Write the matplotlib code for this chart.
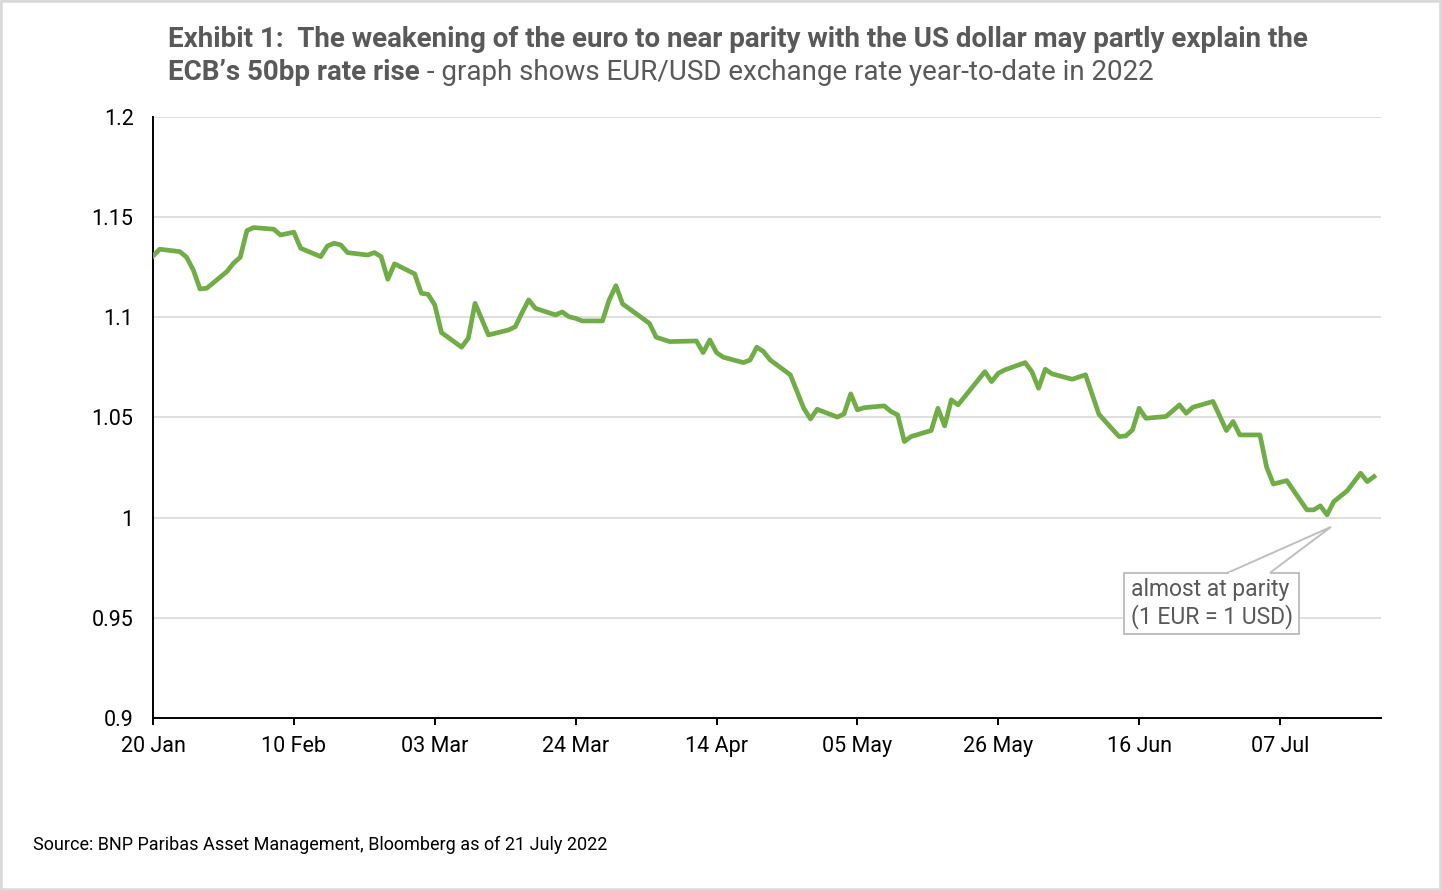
import numpy as np
import pandas as pd
import matplotlib
matplotlib.use('Agg')
import matplotlib.pyplot as plt
import matplotlib.dates as mdates
from matplotlib.patches import Rectangle, Polygon

plt.rcParams['font.family'] = ['Roboto', 'DejaVu Sans']

# EUR/USD, trading days counted from 20 Jan 2022
start = pd.Timestamp('2022-01-20')
day_offset = [0, 1, 4, 5, 6, 7, 8, 11, 12, 13, 14, 15, 18, 19, 21, 22, 25, 26, 27, 28,
              29, 32, 33, 34, 35, 36, 39, 40, 41, 42, 43, 46, 47, 48, 50, 53, 54, 55, 56, 57,
              60, 61, 62, 63, 64, 67, 68, 69, 70, 74, 75, 77, 81, 82, 83, 84, 85, 88, 89, 90,
              91, 92, 95, 97, 98, 99, 102, 103, 104, 105, 106, 109, 110, 111, 112, 113, 116, 117, 118, 119,
              120, 124, 125, 126, 127, 130, 131, 132, 133, 134, 137, 139, 141, 144, 145, 146, 147, 148, 151, 153,
              154, 155, 158, 160, 161, 162, 165, 166, 167, 169, 172, 173, 174, 175, 176, 178, 180, 181, 182]
eurusd = [1.1306, 1.1340, 1.1328, 1.1300, 1.1237, 1.1142, 1.1145, 1.1228, 1.1270, 1.1300,
          1.1433, 1.1448, 1.1440, 1.1411, 1.1425, 1.1345, 1.1303, 1.1356, 1.1370, 1.1361,
          1.1323, 1.1311, 1.1323, 1.1303, 1.1190, 1.1267, 1.1217, 1.1120, 1.1115, 1.1062,
          1.0924, 1.0851, 1.0896, 1.1070, 1.0912, 1.0937, 1.0953, 1.1023, 1.1087, 1.1045,
          1.1012, 1.1027, 1.1003, 1.0995, 1.0982, 1.0982, 1.1087, 1.1158, 1.1067, 1.0970,
          1.0901, 1.0879, 1.0882, 1.0824, 1.0887, 1.0824, 1.0801, 1.0774, 1.0787, 1.0851,
          1.0829, 1.0787, 1.0713, 1.0546, 1.0493, 1.0541, 1.0502, 1.0518, 1.0618, 1.0538,
          1.0549, 1.0558, 1.0530, 1.0513, 1.0380, 1.0405, 1.0435, 1.0546, 1.0458, 1.0588,
          1.0563, 1.0729, 1.0679, 1.0721, 1.0738, 1.0774, 1.0729, 1.0646, 1.0741, 1.0718,
          1.0691, 1.0713, 1.0516, 1.0405, 1.0408, 1.0438, 1.0546, 1.0496, 1.0505, 1.0563,
          1.0521, 1.0551, 1.0580, 1.0435, 1.0480, 1.0413, 1.0413, 1.0252, 1.0168, 1.0185,
          1.0039, 1.0039, 1.0059, 1.0014, 1.0080, 1.0134, 1.0222, 1.0180, 1.0205]
dates = start + pd.to_timedelta(day_offset, unit='D')

tick_dates = pd.date_range('2022-01-20', periods=9, freq='21D')
y_ticks = [0.9, 0.95, 1.0, 1.05, 1.1, 1.15, 1.2]
y_labels = ['0.9', '0.95', '1', '1.05', '1.1', '1.15', '1.2']

grey_text = '#595959'
green = '#70AD47'
W, H = 1442, 891


def fit(t, width_px, renderer):
    # shrink a text until it is as wide as the reference
    w = t.get_window_extent(renderer).width
    t.set_fontsize(t.get_fontsize() * width_px / w)


fig = plt.figure(figsize=(W / 100, H / 100), dpi=100)
ax = fig.add_axes([153 / W, 1 - 718 / H, (1380.7 - 153) / W, (718 - 117) / H])

ax.plot(dates, eurusd, color=green, lw=3.4, solid_joinstyle='round', zorder=3)

ax.set_xlim(start, start + pd.Timedelta(days=183))
ax.set_ylim(0.9, 1.2)
ax.set_yticks(y_ticks)
ax.set_yticklabels(y_labels)
ax.set_xticks(tick_dates)
ax.xaxis.set_major_formatter(mdates.DateFormatter('%d %b'))
ax.grid(axis='y', color='#d9d9d9', lw=1.2)
ax.set_axisbelow(True)
for s in ['top', 'right']:
    ax.spines[s].set_visible(False)
for s in ['left', 'bottom']:
    ax.spines[s].set_linewidth(1.4)
ax.tick_params(axis='y', length=0, pad=14, labelsize=15.5)
ax.tick_params(axis='x', length=5, width=1.4, pad=8, labelsize=15.5)

# callout
tip = (mdates.date2num(start + pd.Timedelta(days=175.6)), 0.9954)
b1 = (mdates.date2num(start + pd.Timedelta(days=160.2)), 0.9725)
b2 = (mdates.date2num(start + pd.Timedelta(days=166.5)), 0.9725)
ax.add_patch(Rectangle((mdates.date2num(start + pd.Timedelta(days=144.7)), 0.942),
                       26.1, 0.0305, fc='white', ec='#bfbfbf', lw=1.4, zorder=4))
ax.add_patch(Polygon([b1, tip, b2], closed=False, fc='white', ec='#bfbfbf', lw=1.4, zorder=5))
ax.plot([b1[0] + 0.3, b2[0] - 0.3], [0.9725, 0.9725], color='white', lw=2, zorder=6)
note = ax.text(mdates.date2num(start + pd.Timedelta(days=145.8)), 0.9572,
               'almost at parity\n(1 EUR = 1 USD)', ha='left', va='center',
               fontsize=16.5, color=grey_text, linespacing=1.2, zorder=7)

# titles
t1 = fig.text(168 / W, 1 - 47 / H,
              'Exhibit 1:  The weakening of the euro to near parity with the US dollar may partly explain the',
              fontsize=20, fontweight='bold', color=grey_text)
t2 = fig.text(168 / W, 1 - 80 / H, 'ECB\u2019s 50bp rate rise', fontsize=20,
              fontweight='bold', color=grey_text)
src = fig.text(33 / W, 1 - 850 / H,
               'Source: BNP Paribas Asset Management, Bloomberg as of 21 July 2022',
               fontsize=13, color='black')

r = fig.canvas.get_renderer()
fit(t1, 1137, r)
t2.set_fontsize(t1.get_fontsize())
fit(src, 572, r)
bb = t2.get_window_extent(r)
t3 = fig.text(bb.x1 / W, 1 - 80 / H,
              ' - graph shows EUR/USD exchange rate year-to-date in 2022',
              fontsize=t1.get_fontsize(), color=grey_text)

fig.patches.append(Rectangle((0, 0), 1, 1, transform=fig.transFigure, fill=False,
                             ec='#d9d9d9', lw=4))

fig.savefig('out.png', dpi=100)
